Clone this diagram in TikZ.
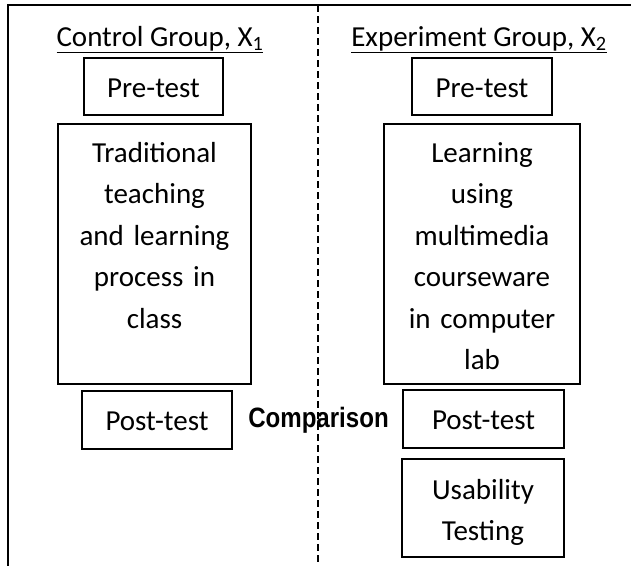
\documentclass[tikz,border=0pt]{standalone}
\usepackage{fontspec}
\usepackage{graphicx}
\setmainfont{Carlito}
\newfontfamily\cmpfont{Liberation Sans}

\begin{document}
\begin{tikzpicture}[x=1pt, y=-1pt, every path/.style={line width=1.8pt}, every node/.style={inner sep=0pt, align=center, anchor=base, font=\fontsize{29}{41.5}\selectfont}, box/.style={draw}]
\useasboundingbox (0,0) rectangle (631,566);

% frame and the dashed divider
\coordinate (tl) at (8,5);
\coordinate (tr) at (631,5);
\coordinate (bl) at (8,566);
\coordinate (dtop) at (318,5);
\coordinate (dbot) at (318,566);
\draw (tr) -- (tl) -- (bl);
\draw[dash pattern=on 6.5pt off 4.5pt] (dtop) -- (dbot);

% control group
\node (ctitle) at (160,46) {\underline{Control Group, X\textsubscript{1}}};
\node[box, text width=139pt, text height=39pt, text depth=18pt] (cpre) at (153.5,97) {Pre-test};
\node[box, text width=193pt, text height=38pt, text depth=222pt] (cteach) at (154.5,162) {Traditional\\ teaching\\ and learning\\ process in\\ class};
\node[box, text width=150pt, text height=39pt, text depth=19pt] (cpost) at (157,430) {Post-test};

% experiment group
\node (etitle) at (479,46) {\underline{Experiment Group, X\textsubscript{2}}};
\node[box, text width=140pt, text height=39pt, text depth=18pt] (epre) at (482,97) {Pre-test};
\node[box, text width=196pt, text height=38pt, text depth=222pt] (eteach) at (482,162) {Learning\\ using\\ multimedia\\ courseware\\ in computer\\ lab};
\node[box, text width=161pt, text height=39pt, text depth=19pt] (epost) at (483.5,429) {Post-test};
\node[box, text width=162pt, text height=40pt, text depth=58pt] (eusab) at (483,499) {Usability\\ Testing};

\node[font=\cmpfont\bfseries\fontsize{28}{30}\selectfont] (cmp) at (318.5,427) {\scalebox{0.86}[1]{Comparison}};
\end{tikzpicture}
\end{document}
